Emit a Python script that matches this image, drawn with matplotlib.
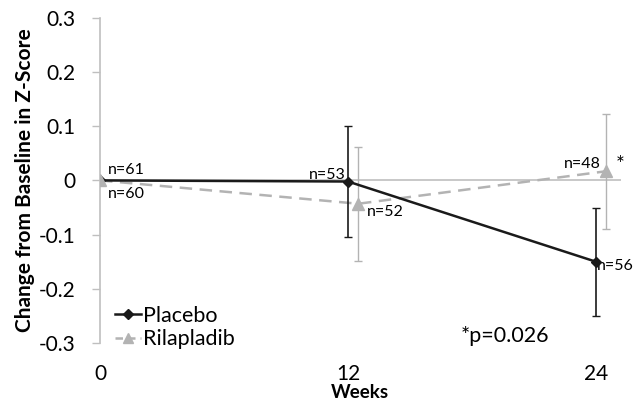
import matplotlib.pyplot as plt
from matplotlib.lines import Line2D

plt.rcParams['font.family'] = ['Lato', 'DejaVu Sans']

weeks = [0, 12, 24]
placebo = [0.0, -0.002, -0.150]
placebo_err = [0.0, 0.103, 0.100]
placebo_n = ["n=61", "n=53", "n=56"]

rila_weeks = [0, 12.5, 24.5]
rilapladib = [0.0, -0.043, 0.017]
rila_err = [0.0, 0.105, 0.106]
rila_n = ["n=60", "n=52", "n=48"]

black = "#1a1a1a"
grey = "#b3b3b3"

fig = plt.figure(figsize=(6.39, 4.05), dpi=100)
ax = fig.add_axes([0.1565, 0.153, 0.815, 0.803])

ax.axhline(0, color="#bfbfbf", lw=1.2, zorder=1)

ax.errorbar(rila_weeks, rilapladib, yerr=rila_err, color=grey, ls=(0, (5, 3)),
            lw=1.8, capsize=3, elinewidth=1, ecolor=grey, zorder=2)
ax.errorbar(weeks, placebo, yerr=placebo_err, color=black, lw=1.8,
            marker="D", ms=5, capsize=3, elinewidth=1.2, ecolor=black, zorder=3)
ax.plot(rila_weeks, rilapladib, ls="none", marker="^", ms=8, color=grey, zorder=4)

# sample size labels
fs_n = 11.5
ax.text(weeks[0] + 0.4, placebo[0] + 0.006, placebo_n[0], fontsize=fs_n, va="bottom")
ax.text(weeks[0] + 0.4, rilapladib[0] - 0.013, rila_n[0], fontsize=fs_n, va="top")
ax.text(weeks[1] - 0.1, placebo[1] + 0.0, placebo_n[1], fontsize=fs_n, ha="right", va="bottom")
ax.text(rila_weeks[1] + 0.4, rilapladib[1] - 0.002, rila_n[1], fontsize=fs_n, va="top")
ax.text(weeks[2] + 0.05, placebo[2] + 0.005, placebo_n[2], fontsize=fs_n, va="top")
ax.text(rila_weeks[2] - 0.25, rilapladib[2] + 0.0, rila_n[2], fontsize=fs_n, ha="right", va="bottom")
ax.text(rila_weeks[2] + 0.45, rilapladib[2] + 0.012, "*", fontsize=15, va="center")
ax.text(19.6, -0.287, "*p=0.026", fontsize=15.5, ha="center", va="center")

ax.set_xlim(0, 25.2)
ax.set_ylim(-0.3, 0.3)
ax.set_yticks([0.3, 0.2, 0.1, 0, -0.1, -0.2, -0.3])
ax.set_yticklabels(["0.3", "0.2", "0.1", "0", "-0.1", "-0.2", "-0.3"], fontsize=15)
ax.set_xticks(weeks)
ax.set_xticklabels([str(w) for w in weeks], fontsize=15)
ax.tick_params(axis="x", length=0, pad=15)
ax.tick_params(axis="y", length=6, color="#bfbfbf", width=1, pad=12)

for s in ["top", "right", "bottom"]:
    ax.spines[s].set_visible(False)
ax.spines["left"].set_color("#bfbfbf")
ax.spines["left"].set_linewidth(1.2)

ax.set_ylabel("Change from Baseline in Z-Score", fontsize=15, fontweight="bold", labelpad=2)
ax.set_xlabel("Weeks", fontsize=13.5, fontweight="bold", labelpad=0)

handles = [
    Line2D([], [], color=black, lw=1.8, marker="D", ms=5),
    Line2D([], [], color=grey, lw=1.8, ls=(0, (3, 2)), marker="^", ms=7),
]
ax.legend(handles, ["Placebo", "Rilapladib"], loc="lower left", bbox_to_anchor=(0.0, -0.065),
          frameon=False, fontsize=15.5, handlelength=1.2, handletextpad=0.1,
          labelspacing=0.15, borderpad=0.2)

fig.savefig("out.png", dpi=100)
